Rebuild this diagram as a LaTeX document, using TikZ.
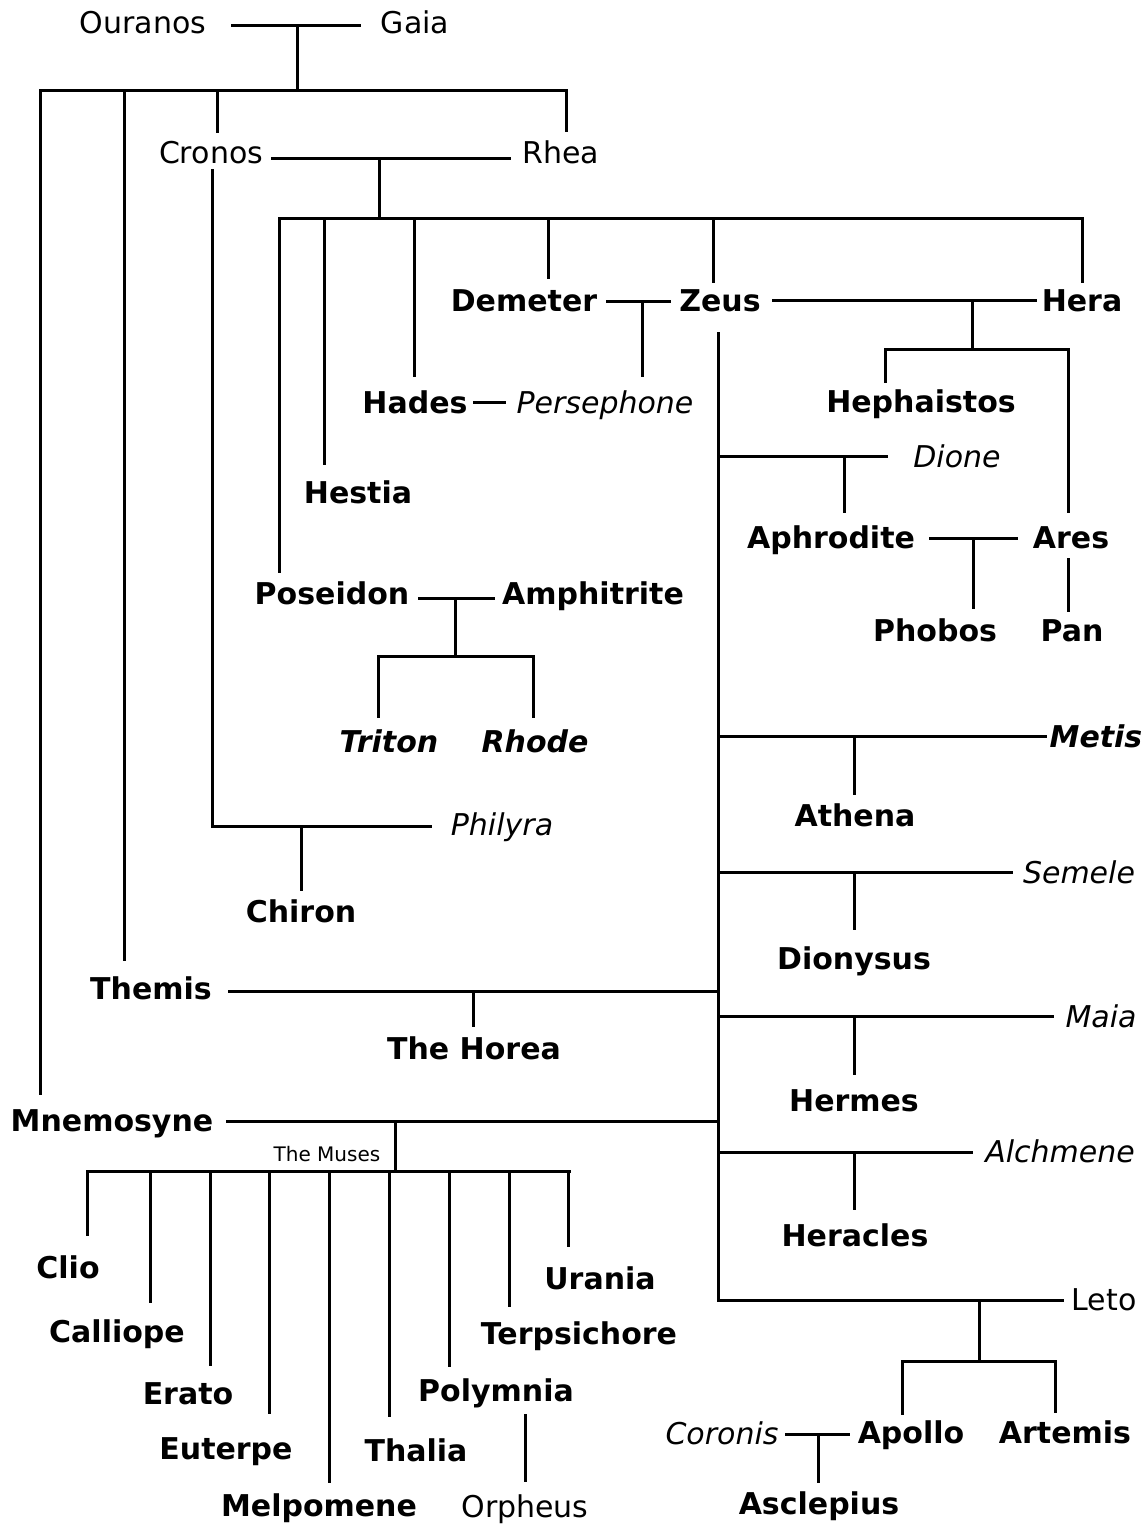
\documentclass[tikz,border=0pt]{standalone}
\usepackage{fontspec}
\setmainfont{DejaVu Sans}
\usepackage{tikz}
\usetikzlibrary{calc}
\newcommand{\kinsize}{\fontsize{30pt}{36pt}\selectfont}

\begin{document}
\begin{tikzpicture}[x=1pt,y=-1pt,line width=3pt,line cap=rect,
    kin/.style={anchor=base,inner sep=0pt,font=\kinsize},
    god/.style={kin,font=\kinsize\bfseries},
    wife/.style={kin,font=\kinsize\itshape},
    nymph/.style={kin,font=\kinsize\bfseries\itshape},
    muselabel/.style={kin,font=\fontsize{20pt}{24pt}\selectfont}]
	\useasboundingbox (0,0) rectangle (1148,1524);
	% first generations
	\node[kin] (ouranos) at (143,33) {Ouranos};
	\node[kin] (gaia) at (415,33) {Gaia};
	\node[kin] (cronos) at (211,163) {Cronos};
	\node[kin] (rhea) at (561,163) {Rhea};
	\node[god] (themis) at (151,999) {Themis};
	\node[god] (mnemosyne) at (112,1131) {Mnemosyne};
	% Olympians
	\node[god] (demeter) at (524,311) {Demeter};
	\node[god] (zeus) at (720,311) {Zeus};
	\node[god] (hera) at (1082,311) {Hera};
	\node[god] (hades) at (415,413) {Hades};
	\node[wife] (persephone) at (605,413) {Persephone};
	\node[god] (hephaistos) at (921,412) {Hephaistos};
	\node[god] (hestia) at (358,503) {Hestia};
	\node[wife] (dione) at (957,467) {Dione};
	\node[god] (aphrodite) at (831,548) {Aphrodite};
	\node[god] (ares) at (1071,548) {Ares};
	\node[god] (poseidon) at (332,604) {Poseidon};
	\node[god] (amphitrite) at (593,604) {Amphitrite};
	\node[god] (phobos) at (935,641) {Phobos};
	\node[god] (pan) at (1072,641) {Pan};
	\node[nymph] (triton) at (389,752) {Triton};
	\node[nymph] (rhode) at (535,752) {Rhode};
	\node[nymph] (metis) at (1096,747) {Metis};
	\node[god] (athena) at (855,826) {Athena};
	\node[wife] (philyra) at (502,835) {Philyra};
	\node[god] (chiron) at (301,922) {Chiron};
	\node[wife] (semele) at (1079,883) {Semele};
	\node[god] (dionysus) at (854,969) {Dionysus};
	\node[god] (horea) at (474,1059) {The Horea};
	\node[wife] (maia) at (1101,1027) {Maia};
	\node[god] (hermes) at (854,1111) {Hermes};
	\node[wife] (alchmene) at (1060,1162) {Alchmene};
	\node[god] (heracles) at (855,1246) {Heracles};
	\node[kin] (leto) at (1104,1310) {Leto};
	\node[god] (apollo) at (911,1443) {Apollo};
	\node[god] (artemis) at (1065,1443) {Artemis};
	\node[wife] (coronis) at (722,1444) {Coronis};
	\node[god] (asclepius) at (819,1514) {Asclepius};
	% the Muses
	\node[muselabel] (muses) at (327,1161) {The Muses};
	\node[god] (clio) at (68,1278) {Clio};
	\node[god] (calliope) at (117,1342) {Calliope};
	\node[god] (erato) at (188,1404) {Erato};
	\node[god] (euterpe) at (226,1459) {Euterpe};
	\node[god] (melpomene) at (319,1516) {Melpomene};
	\node[god] (thalia) at (416,1461) {Thalia};
	\node[god] (polymnia) at (496,1401) {Polymnia};
	\node[god] (terpsichore) at (579,1344) {Terpsichore};
	\node[god] (urania) at (600,1289) {Urania};
	\node[kin] (orpheus) at (525,1517) {Orpheus};

	% Ouranos and Gaia
	\coordinate (ug) at (297,25);
	\coordinate (ugkids) at (297,90);
	\coordinate (ugL) at (40,90);
	\coordinate (ugR) at (566,90);
	\draw[shorten <=25pt,shorten >=20pt] (ouranos.east |- ug) -- (gaia.west |- ug);
	\draw (ug) -- (ugkids);
	\draw (ugL) -- (ugR);
	\foreach \x/\kid/\gap in {40/mnemosyne/14, 124/themis/15, 217/cronos/8, 566/rhea/8}
		\draw[shorten >=\gap pt] (\x,90) -- (\x,90 |- \kid.north);

	% Cronos and Rhea
	\coordinate (cr) at (379,158);
	\coordinate (crkids) at (379,218);
	\coordinate (crL) at (279,218);
	\coordinate (crR) at (1082,218);
	\draw[shorten <=8pt,shorten >=12pt] (cronos.east |- cr) -- (rhea.west |- cr);
	\draw (cr) -- (crkids);
	\draw (crL) -- (crR);
	\foreach \x/\kid/\gap in {279/poseidon/8, 324/hestia/15, 414/hades/13, 548/demeter/10, 713/zeus/6, 1082/hera/6}
		\draw[shorten >=\gap pt] (\x,218) -- (\x,218 |- \kid.north);

	% Cronos and Philyra
	\coordinate (cp) at (212,826);
	\coordinate (cpkid) at (301,826);
	\draw[shorten <=6pt,shorten >=19pt] (cp |- cronos.south) -- (cp) -- (philyra.west |- cp);
	\draw[shorten >=8pt] (cpkid) -- (cpkid |- chiron.north);

	% Demeter and Zeus, Hades and Persephone
	\coordinate (dz) at (642,301);
	\coordinate (hp) at (490,402);
	\draw[shorten <=9pt,shorten >=8pt] (demeter.east |- dz) -- (zeus.west |- dz);
	\draw[shorten >=13pt] (dz) -- (dz |- persephone.north);
	\draw[shorten <=5pt,shorten >=11pt] (hades.east |- hp) -- (persephone.west |- hp);

	% Zeus and Hera
	\coordinate (zh) at (972,300);
	\coordinate (zhkids) at (972,349);
	\coordinate (zhL) at (885,349);
	\coordinate (zhR) at (1068,349);
	\draw[shorten <=11pt,shorten >=5pt] (zeus.east |- zh) -- (hera.west |- zh);
	\draw (zh) -- (zhkids);
	\draw (zhL) -- (zhR);
	\draw[shorten >=6pt] (zhL) -- (zhL |- hephaistos.north);
	\draw[shorten >=13pt] (zhR) -- (zhR |- ares.north);
	\draw[shorten <=10pt,shorten >=7pt] (zhR |- ares.south) -- (zhR |- pan.north);

	% Aphrodite and Ares
	\coordinate (aa) at (973,538);
	\draw[shorten <=14pt,shorten >=15pt] (aphrodite.east |- aa) -- (ares.west |- aa);
	\draw[shorten >=9pt] (aa) -- (aa |- phobos.north);

	% Poseidon and Amphitrite
	\coordinate (pa) at (455,598);
	\coordinate (pakids) at (455,656);
	\coordinate (paL) at (378,656);
	\coordinate (paR) at (533,656);
	\draw[shorten <=9pt,shorten >=7pt] (poseidon.east |- pa) -- (amphitrite.west |- pa);
	\draw (pa) -- (pakids);
	\draw (paL) -- (paR);
	\draw[shorten >=11pt] (paL) -- (paL |- triton.north);
	\draw[shorten >=11pt] (paR) -- (paR |- rhode.north);

	% Zeus and his other partners
	\coordinate (zl) at (718,1300);
	\draw[shorten <=21pt,shorten >=8pt] (zl |- zeus.south) -- (zl) -- (leto.west |- zl);
	\foreach \wname/\y/\jx/\kid/\wg/\kg in {dione/456/844/aphrodite/25/12, metis/736/854/athena/3/8, semele/872/854/dionysus/10/16, maia/1016/854/hermes/12/14, alchmene/1152/854/heracles/12/13}{
		\draw[shorten >=\wg pt] (718,\y) -- (\wname.west |- 0,\y);
		\draw[shorten >=\kg pt] (\jx,\y) -- (\jx,\y |- \kid.north);
	}

	% Themis
	\coordinate (tz) at (718,991);
	\coordinate (tzkid) at (473,991);
	\draw[shorten <=16pt] (themis.east |- tz) -- (tz);
	\draw[shorten >=9pt] (tzkid) -- (tzkid |- horea.north);

	% Mnemosyne
	\coordinate (mz) at (718,1121);
	\coordinate (mzkids) at (395,1121);
	\coordinate (musebar) at (395,1171);
	\coordinate (museL) at (87,1171);
	\coordinate (museR) at (569,1171);
	\draw[shorten <=13pt] (mnemosyne.east |- mz) -- (mz);
	\draw (mzkids) -- (musebar);
	\draw (museL) -- (museR);
	\foreach \x/\kid/\gap in {87/clio/19, 150/calliope/16, 210/erato/16, 269/euterpe/23, 329/melpomene/10, 389/thalia/21, 449/polymnia/11, 509/terpsichore/14, 568/urania/19}
		\draw[shorten >=\gap pt] (\x,1171) -- (\x,1171 |- \kid.north);
	\draw[shorten <=7pt,shorten >=12pt] (orpheus.north |- polymnia.south) -- (orpheus.north);

	% Leto
	\coordinate (lz) at (979,1300);
	\coordinate (lzkids) at (979,1361);
	\coordinate (lzL) at (902,1361);
	\coordinate (lzR) at (1055,1361);
	\draw (lz) -- (lzkids);
	\draw (lzL) -- (lzR);
	\draw[shorten >=5pt] (lzL) -- (lzL |- apollo.north);
	\draw[shorten >=7pt] (lzR) -- (lzR |- artemis.north);

	% Coronis and Apollo
	\coordinate (ca) at (818,1434);
	\draw[shorten <=7pt,shorten >=8pt] (coronis.east |- ca) -- (apollo.west |- ca);
	\draw[shorten >=8pt] (ca) -- (ca |- asclepius.north);
\end{tikzpicture}
\end{document}
